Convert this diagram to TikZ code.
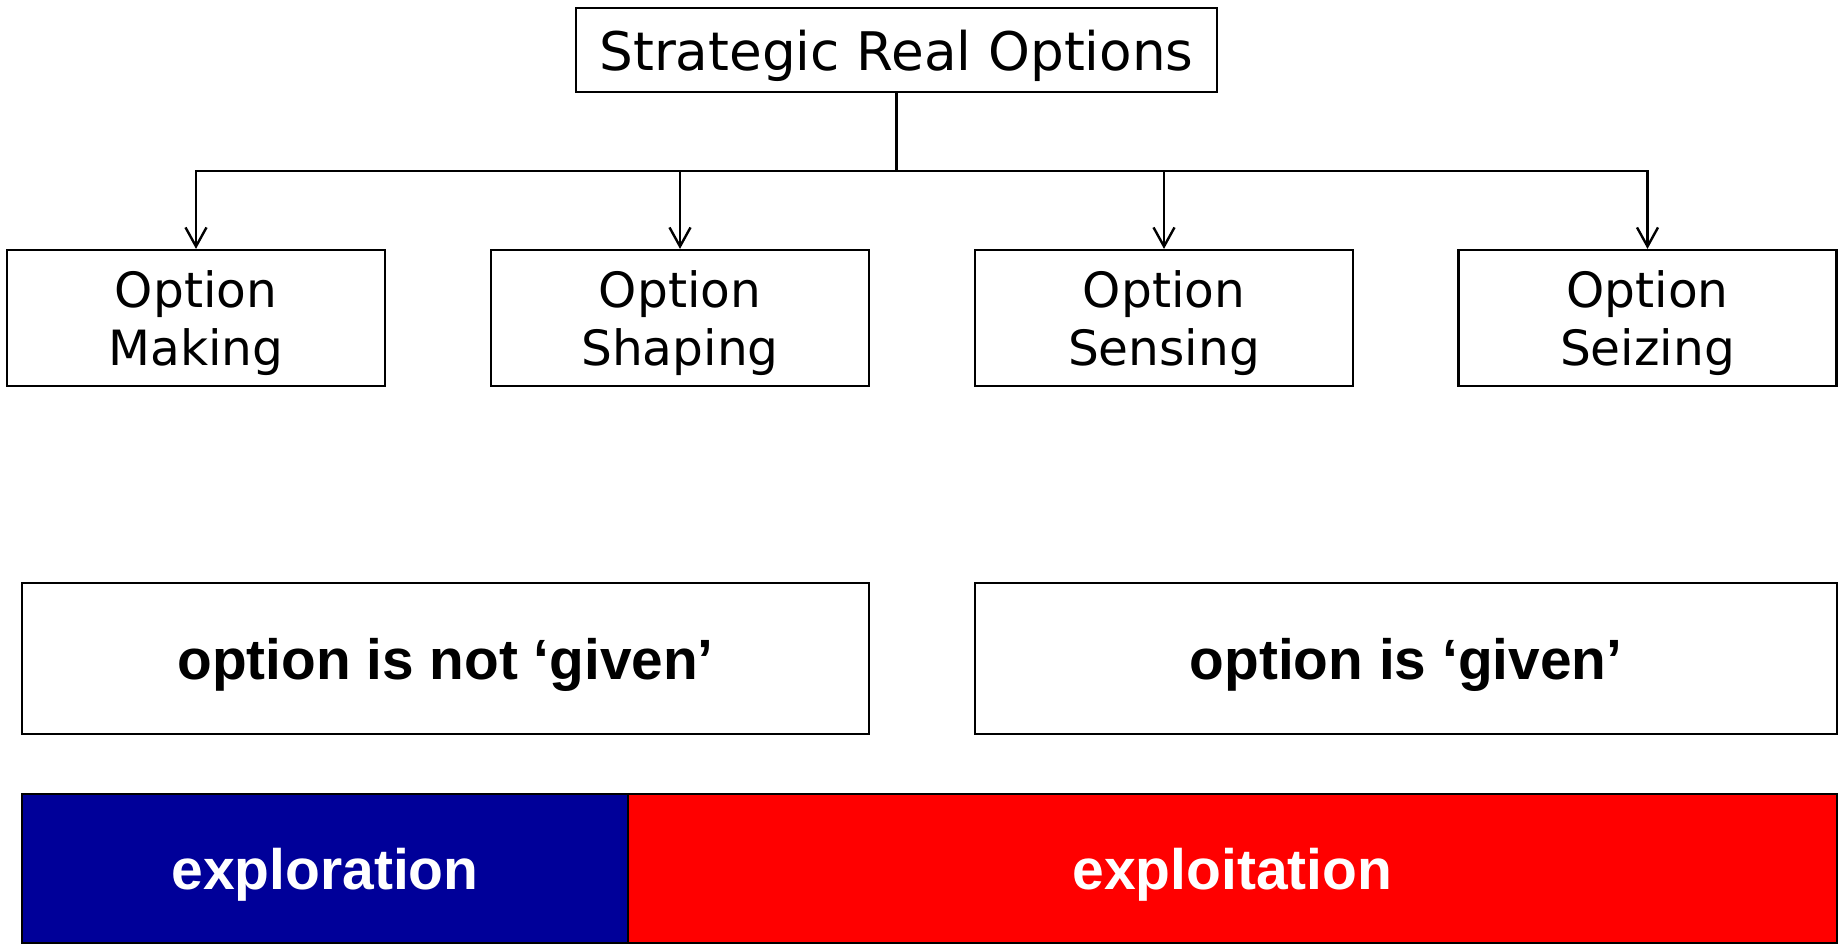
\documentclass[tikz,border=0pt]{standalone}
\usepackage{fontspec}
\usetikzlibrary{arrows.meta}
\newfontfamily\verdanalike{DejaVu Sans}
\newfontfamily\arialbold{Liberation Sans}[BoldFont={Liberation Sans Bold}]
\definecolor{exploreblue}{HTML}{000099}
\definecolor{exploitred}{HTML}{FF0000}
\begin{document}
\begin{tikzpicture}[x=0.5pt,y=-0.5pt,
  box/.style={draw=black,line width=1.1pt,inner sep=0pt,fill=white,align=center,text depth=0pt},
  optbox/.style={box,minimum width=189pt,minimum height=68pt,
    font=\verdanalike\fontsize{24.3}{28.75}\selectfont},
  statebox/.style={box,minimum height=75.5pt,
    font=\arialbold\bfseries\fontsize{28.4}{34}\selectfont},
  band/.style={draw=black,line width=0.6pt,inner sep=0pt,minimum height=74.5pt,text depth=0pt,
    text=white,font=\arialbold\bfseries\fontsize{28.5}{34}\selectfont},
  link/.style={line width=1.4pt},
  arr/.style={link,-{Straight Barb[length=9.5pt,width=10.5pt,line width=1.2pt]}}]
\useasboundingbox (0,0) rectangle (1841,943);

% root of the hierarchy
\node[box,minimum width=320.5pt,minimum height=42pt,
  font=\verdanalike\fontsize{26.6}{30}\selectfont] (root) at (896.5,50) {Strategic Real Options};

% the four kinds of option
\node[optbox] (making)  at (196,318)    {Option\\Making};
\node[optbox] (shaping) at (680,318)    {Option\\Shaping};
\node[optbox] (sensing) at (1164,318)   {Option\\Sensing};
\node[optbox] (seizing) at (1647.5,318) {Option\\Seizing};

% branching point below the root
\coordinate (hub) at (896.5,171);
\draw[link] (root) -- (hub);
\draw[arr] (hub) -| (making);
\draw[arr] (hub) -| (shaping);
\draw[arr] (hub) -| (sensing);
\draw[arr] (hub) -| (seizing);

% status of the option
\node[statebox,minimum width=423.5pt] (notgiven) at (445.5,658.5) {option is not ‘given’};
\node[statebox,minimum width=431pt]   (given)    at (1406,658.5)  {option is ‘given’};

% exploration / exploitation band
\node[band,fill=exploreblue,minimum width=303pt]  (explore) at (325,868.5)    {exploration};
\node[band,fill=exploitred,minimum width=604.5pt] (exploit) at (1232.5,868.5) {exploitation};
\end{tikzpicture}
\end{document}
